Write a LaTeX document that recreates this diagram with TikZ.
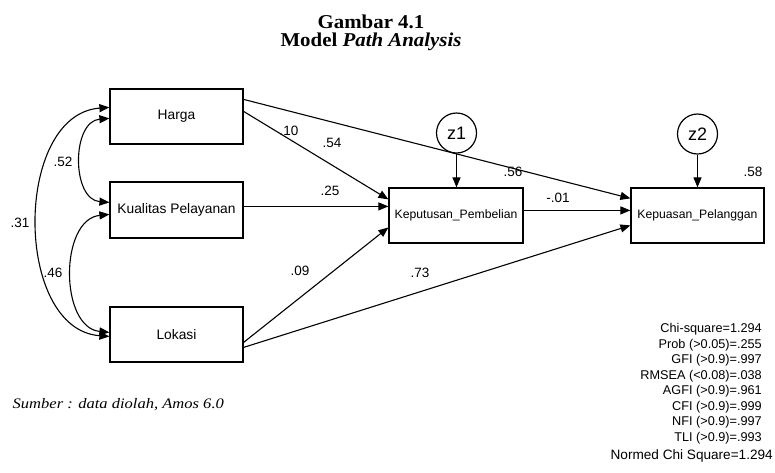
\documentclass[tikz,border=0pt]{standalone}
\usepackage{fontspec}
\setmainfont{Liberation Sans}
\newfontfamily\titlefont[FakeStretch=1.065]{Liberation Serif}
\newfontfamily\notefont[FakeStretch=1.14]{Liberation Serif}
\usetikzlibrary{arrows.meta,calc}
\begin{document}
\begin{tikzpicture}[x=1pt,y=-1pt,
  var/.style={draw, line width=1.2pt, minimum width=133pt, minimum height=55pt, inner sep=0pt, font=\fontsize{13.8}{16}\selectfont},
  endo/.style={var, minimum width=134pt, font=\fontsize{12.2}{14}\selectfont},
  err/.style={draw, circle, line width=1.2pt, minimum size=40pt, inner sep=0pt, font=\fontsize{18}{20}\selectfont},
  pathline/.style={line width=1.1pt, -{Triangle[length=10pt,width=8pt]}},
  covline/.style={line width=1.1pt, {Triangle[length=10pt,width=8pt]}-{Triangle[length=10pt,width=8pt]}},
  coef/.style={font=\fontsize{13.5}{15}\selectfont, inner sep=0pt},
  stat/.style={font=\fontsize{12.7}{15}\selectfont, inner sep=0pt, anchor=base east},
  ttl/.style={font=\titlefont\bfseries\fontsize{19.6}{20}\selectfont, anchor=base, inner sep=0pt}]
\useasboundingbox (0,0) rectangle (775,472);

% title
\node[ttl] (t1) at (371,28.3) {Gambar 4.1};
\node[ttl] (t2) at (371,46.7) {Model \textit{Path Analysis}};

% variables
\node[var] (harga) at (176.5,116.5) {Harga};
\node[var, minimum height=56pt] (kual) at (176.5,210) {Kualitas Pelayanan};
\node[var] (lok) at (176.5,334.5) {Lokasi};
\node[endo] (kep) at (456,215.5) {Keputusan\_Pembelian};
\node[endo, minimum width=133pt] (kpu) at (697.5,215.5) {Kepuasan\_Pelanggan};
\node[err] (z1) at (456.5,133) {z1};
\node[err] (z2) at (697.5,134) {z2};

% paths
\draw[pathline] ($(harga.north east)+(0,23)$) -- ($(kep.north west)+(0,12)$);
\draw[pathline] ($(harga.north east)+(0,11)$) -- ($(kpu.north west)+(0,11)$);
\draw[pathline] ($(kual.north east)+(0,25)$) -- ($(kep.north west)+(0,19)$);
\draw[pathline] ($(kep.north east)+(0,23)$) -- ($(kpu.north west)+(0,23)$);
\draw[pathline] ($(lok.north east)+(0,36)$) -- ($(kep.north west)+(0,40)$);
\draw[pathline] ($(lok.north east)+(0,41)$) -- ($(kpu.north west)+(0,38)$);
\draw[pathline] (z1.south) -- (kep.north -| z1.south);
\draw[pathline] (z2.south) -- (kpu.north -| z2.south);

% covariances
\draw[covline] ($(harga.north west)+(0,30)$) .. controls ($(harga.north west)+(-38,33)$) and ($(kual.north west)+(-38,18)$) .. ($(kual.north west)+(0,21)$);
\draw[covline] ($(kual.north west)+(0,33)$) .. controls ($(kual.north west)+(-50,38)$) and ($(lok.north west)+(-50,21)$) .. ($(lok.north west)+(0,26)$);
\draw[covline] ($(harga.north west)+(0,19)$) .. controls ($(harga.north west)+(-96,26)$) and ($(lok.north west)+(-96,23)$) .. ($(lok.north west)+(0,30)$);

% coefficients
\node[coef] (c10) at (289,131) {.10};
\node[coef] (c54) at (332,143) {.54};
\node[coef] (c25) at (330,191) {.25};
\node[coef] (c09) at (300,271) {.09};
\node[coef] (c73) at (420,273) {.73};
\node[coef] (c56) at (513,172) {.56};
\node[coef] (c01) at (558,198) {-.01};
\node[coef] (c58) at (753,172) {.58};
\node[coef] (c52) at (63,162) {.52};
\node[coef] (c31) at (20,223) {.31};
\node[coef] (c46) at (53,273) {.46};

% fit statistics
\node[stat] (s1) at (762,332.5) {Chi-square=1.294};
\node[stat] (s2) at (762,348) {Prob (>0.05)=.255};
\node[stat] (s3) at (762,363.5) {GFI (>0.9)=.997};
\node[stat] (s4) at (762,379) {RMSEA (<0.08)=.038};
\node[stat] (s5) at (762,394.5) {AGFI (>0.9)=.961};
\node[stat] (s6) at (762,410) {CFI (>0.9)=.999};
\node[stat] (s7) at (762,425.5) {NFI (>0.9)=.997};
\node[stat] (s8) at (762,441) {TLI (>0.9)=.993};
\node[stat, font=\fontsize{13.6}{15}\selectfont] (s9) at (773,459) {Normed Chi Square=1.294};

% source
\node[font=\notefont\itshape\fontsize{14.5}{16}\selectfont, anchor=base west, inner sep=0pt] (src) at (12.5,408) {Sumber : data diolah, Amos 6.0};
\end{tikzpicture}
\end{document}
